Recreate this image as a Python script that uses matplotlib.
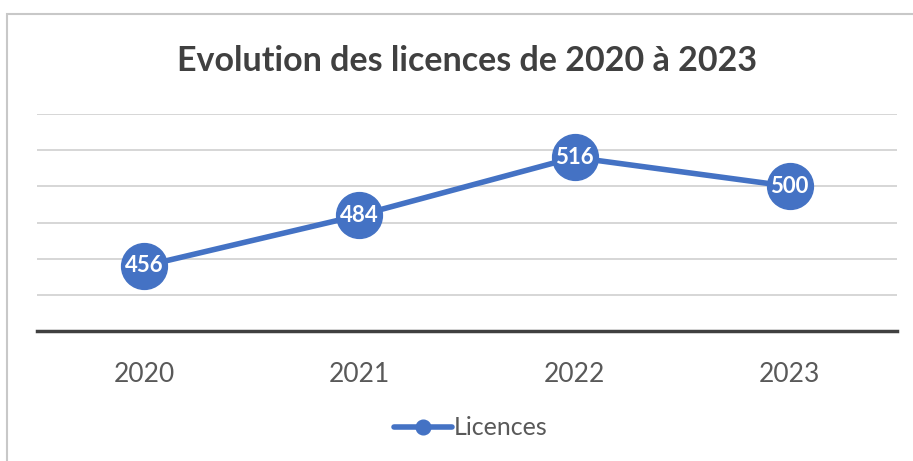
import numpy as np
from matplotlib import pyplot as plt
from matplotlib.patches import Rectangle

years = ['2020', '2021', '2022', '2023']
licences = [456, 484, 516, 500]

blue = '#4472C4'
grey_txt = '#595959'

plt.rcParams['font.family'] = ['Lato', 'DejaVu Sans']

fig = plt.figure(figsize=(9.13, 4.61), dpi=100)
ax = fig.add_axes([0.0405, 0.282, 0.942, 0.4707])

x = np.arange(len(years))
ax.plot(x, licences, color=blue, lw=4, marker='o', ms=33, zorder=3,
        solid_capstyle='round', label='Licences')
for xi, v in zip(x, licences):
  ax.text(xi, v, str(v), color='white', fontsize=16, fontweight='bold',
          ha='center', va='center', zorder=4)

ax.set_xlim(-0.5, len(years) - 0.5)
ax.set_ylim(420, 540)
ax.set_yticks(np.arange(420, 541, 20))
ax.yaxis.grid(True, color='#D0D0D0', lw=1.2)
ax.set_axisbelow(True)
ax.tick_params(axis='y', left=False, labelleft=False)
ax.set_xticks(x)
ax.set_xticklabels(years, fontsize=19, color=grey_txt)
ax.tick_params(axis='x', length=0, pad=22)
for s in ['top', 'left', 'right']:
  ax.spines[s].set_visible(False)
ax.spines['bottom'].set_color('#404040')
ax.spines['bottom'].set_linewidth(2.5)
ax.spines['bottom'].set_zorder(2)

fig.text(0.512, 0.868, 'Evolution des licences de 2020 à 2023', ha='center', va='center',
         fontsize=24.5, fontweight='bold', color='#404040')

leg = fig.legend(handles=ax.get_lines(), labels=['Licences'], loc='center',
                 bbox_to_anchor=(0.516, 0.072), frameon=False, fontsize=18,
                 markerscale=0.32, handlelength=2.3, handletextpad=0.1)
for t in leg.get_texts():
  t.set_color(grey_txt)

fig.patches.append(Rectangle((7 / 913, -0.1), 2, 1 - 14 / 461 + 0.1,
                             transform=fig.transFigure, fill=False,
                             edgecolor='#C8C8C8', lw=1.5))

fig.savefig('out.png', dpi=100)
